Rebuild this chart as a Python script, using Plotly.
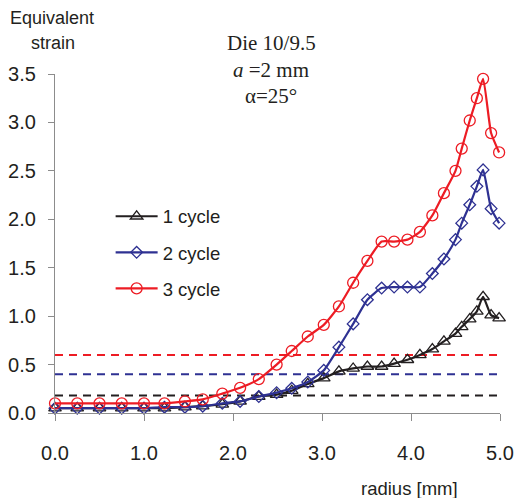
import plotly.graph_objects as go

# radius positions of the sampled points [mm]
radius = [0.00, 0.25, 0.50, 0.75, 1.00, 1.23, 1.46, 1.66, 1.88, 2.08, 2.29,
          2.49, 2.66, 2.84, 3.02, 3.19, 3.35, 3.51, 3.67, 3.81, 3.96, 4.10,
          4.24, 4.37, 4.50, 4.57, 4.66, 4.74, 4.81, 4.90, 4.99]

# equivalent strain after each ECAP cycle
strain_1 = [0.05, 0.05, 0.05, 0.05, 0.05, 0.05, 0.06, 0.07, 0.09, 0.12, 0.17,
            0.19, 0.23, 0.30, 0.36, 0.43, 0.46, 0.48, 0.48, 0.51, 0.55, 0.60,
            0.66, 0.74, 0.82, 0.89, 0.97, 1.05, 1.20, 1.01, 0.98]
strain_2 = [0.05, 0.05, 0.05, 0.05, 0.05, 0.06, 0.06, 0.07, 0.10, 0.12, 0.17,
            0.21, 0.255, 0.32, 0.44, 0.68, 0.92, 1.17, 1.29, 1.30, 1.30, 1.30,
            1.44, 1.59, 1.79, 1.96, 2.15, 2.34, 2.51, 2.11, 1.96]
strain_3 = [0.10, 0.10, 0.10, 0.10, 0.10, 0.10, 0.12, 0.14, 0.20, 0.26, 0.35,
            0.50, 0.64, 0.79, 0.91, 1.10, 1.345, 1.57, 1.77, 1.77, 1.79, 1.87,
            2.04, 2.27, 2.50, 2.73, 3.02, 3.25, 3.45, 2.89, 2.69]

# reference (uniform) strain levels for 1, 2 and 3 cycles
ref_levels = [0.18, 0.40, 0.60]
ref_span = [0.0, 5.0]

names = ["1 cycle", "2 cycle", "3 cycle"]
colors = ["#231F20", "#2E3192", "#ED1C24"]
symbols = ["triangle-up-open", "diamond-open", "circle-open"]
sizes = [11, 9, 11]
series = [strain_1, strain_2, strain_3]

W, H = 518, 498
ML, MR, MT, MB = 55, 18, 74, 85

fig = go.Figure()

for lvl, col in zip(ref_levels, colors):
    fig.add_trace(go.Scatter(
        x=ref_span, y=[lvl, lvl], mode="lines",
        line=dict(color=col, width=2, dash="8px,6px"),
        showlegend=False, hoverinfo="skip", cliponaxis=False))

for name, col, sym, sz, ys in zip(names, colors, symbols, sizes, series):
    fig.add_trace(go.Scatter(
        x=radius, y=ys, name=name, mode="lines+markers",
        legendgroup=name, cliponaxis=False,
        line=dict(color=col, width=2.2, shape="spline", smoothing=0.5),
        marker=dict(symbol=sym, size=sz, color=col,
                    line=dict(color=col, width=1.3))))

axis_col = "#8C8C8C"
tick_font = dict(family="Liberation Sans, Arial", size=20, color="#231F20")
fig.update_xaxes(range=[0, 5], tickvals=[0, 1, 2, 3, 4, 5], tickformat=".1f",
                 showgrid=False, zeroline=False, showline=True,
                 linecolor=axis_col, linewidth=1.3, ticks="outside",
                 ticklen=7, tickcolor=axis_col, tickwidth=1.3,
                 ticklabelstandoff=15, automargin=False, tickfont=tick_font)
fig.update_yaxes(range=[0, 3.5], dtick=0.5, tickformat=".1f",
                 showgrid=False, zeroline=False, showline=True,
                 linecolor=axis_col, linewidth=1.3, ticks="outside",
                 ticklen=6, tickcolor=axis_col, tickwidth=1.3,
                 ticklabelstandoff=8, automargin=False, tickfont=tick_font)

fig.update_layout(
    width=W, height=H, autosize=False,
    margin=dict(l=ML, r=MR, t=MT, b=MB),
    paper_bgcolor="white", plot_bgcolor="white",
    legend=dict(x=0.125, y=0.635, xanchor="left", yanchor="top",
                bgcolor="rgba(0,0,0,0)", tracegroupgap=9, itemwidth=42,
                font=dict(family="Liberation Sans, Arial", size=18.5,
                          color="#231F20")),
)

plot_w = W - ML - MR
plot_h = H - MT - MB


def px_x(px):
    return (px - ML) / plot_w


def px_y(py):
    return (H - MB - py) / plot_h


# axis captions
text_font = dict(family="Liberation Sans, Arial", size=18, color="#231F20")
fig.add_annotation(text="Equivalent", x=px_x(8), y=px_y(18), xref="paper",
                   yref="paper", xanchor="left", yanchor="middle",
                   showarrow=False, font=text_font)
fig.add_annotation(text="strain", x=px_x(29), y=px_y(43), xref="paper",
                   yref="paper", xanchor="left", yanchor="middle",
                   showarrow=False, font=text_font)
fig.add_annotation(text="radius [mm]", x=px_x(460), y=px_y(488), xref="paper",
                   yref="paper", xanchor="right", yanchor="middle",
                   showarrow=False,
                   font=dict(family="Liberation Sans, Arial", size=18.5,
                             color="#231F20"))

# die description block
title_font = dict(family="Liberation Serif, Times New Roman", size=21,
                  color="#231F20")
for txt, py in [("Die 10/9.5", 43), ("<i>a</i> =2 mm", 70), ("\u03b1=25\u00b0", 96)]:
    fig.add_annotation(text=txt, x=px_x(271), y=px_y(py), xref="paper",
                       yref="paper", xanchor="center", yanchor="middle",
                       showarrow=False, font=title_font)

fig.write_html("out.html")
